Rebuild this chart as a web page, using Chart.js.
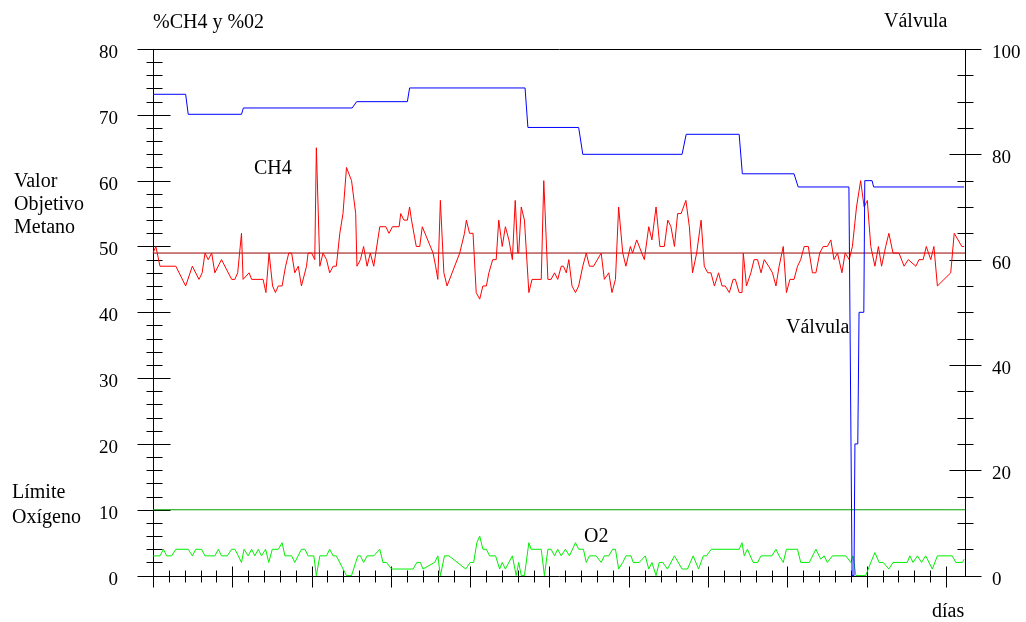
<!DOCTYPE html>
<html>
<head>
<meta charset="utf-8">
<script src="https://cdn.jsdelivr.net/npm/chart.js@4"></script>
<style>
  html, body { margin: 0; padding: 0; background: #fff; }
  #caja { width: 1026px; height: 622px; position: relative; }
</style>
</head>
<body>
<div id="caja"><canvas id="grafico"></canvas></div>
<script>
// CH4 (%): day -> value
let diasCH4 = [0, 0.9, 2.2, 7.2, 10.3, 12.4, 14.5, 15.5, 16.4, 17.4, 18.5, 19.5, 21.6, 24.8, 25.8, 26.7, 27.9, 28.4, 30.3, 31.1,
    34.7, 35.6, 36.6, 37.7, 38.6, 39.5, 40.7, 41.8, 42.8, 43.7, 44.7, 45.8, 46.8, 48.4, 48.9, 50.0, 51.0, 51.5, 52.6, 53.6,
    54.7, 55.7, 56.8, 57.8, 58.9, 59.9, 61.0, 62.6, 63.9, 64.3, 65.4, 66.4, 67.5, 68.5, 69.6, 71.5, 73.4, 74.4, 75.5, 77.6,
    78.1, 79.1, 80.2, 80.9, 81.5, 83.0, 84.1, 84.9, 88.3, 89.1, 89.8, 90.6, 91.7, 92.7, 96.7, 98.2, 98.8, 99.8, 100.9, 101.9,
    103.0, 104.0, 105.1, 105.9, 107.1, 108.2, 109.0, 110.1, 111.1, 112.2, 113.3, 114.2, 115.0, 115.3, 116.1, 117.1, 118.5, 119.5, 122.4, 123.2,
    124.5, 125.5, 126.6, 127.6, 128.7, 129.4, 130.3, 131.1, 132.1, 133.2, 134.2, 135.5, 136.6, 137.6, 138.9, 141.3, 142.3, 143.7, 144.7, 145.8,
    146.8, 148.1, 149.1, 150.5, 151.2, 152.5, 154.9, 156.3, 157.3, 158.6, 159.8, 161.2, 162.3, 163.3, 164.4, 165.4, 166.5, 168.0, 169.1, 170.1,
    171.4, 172.8, 173.8, 174.9, 175.9, 177.0, 178.3, 179.4, 180.4, 181.7, 182.9, 183.6, 184.8, 185.7, 186.1, 187.1, 188.5, 189.5, 190.6, 191.7,
    192.7, 194.1, 195.3, 196.4, 197.4, 198.7, 199.7, 200.8, 202.1, 203.2, 204.2, 205.3, 206.6, 207.9, 209.0, 210.2, 211.3, 212.6, 213.7, 214.7,
    215.8, 217.2, 218.2, 219.5, 220.5, 221.8, 223.1, 224.2, 225.2, 226.3, 227.6, 228.7, 229.7, 231.0, 232.0, 233.3, 235.2, 236.8, 238.1, 240.5,
    241.5, 242.8, 243.8, 245.2, 246.2, 247.3, 251.5, 252.6, 255.0, 255.7]
let ch4 = [49, 50, 47, 47, 44, 47, 45, 46, 49, 48, 49, 46, 48, 45, 45, 46, 52, 45, 46, 45,
    45, 43, 49, 44, 43, 44, 44, 47, 49, 49, 46, 47, 44, 47, 49, 49, 48, 65, 47, 49,
    48, 46, 47, 47, 52, 55, 62, 60, 55, 47, 48, 50, 47, 49, 47, 53, 53, 52, 53, 53,
    55, 54, 54, 56, 54, 50, 50, 53, 49, 47, 45, 57, 46, 44, 49, 52, 54, 52, 52, 43,
    42, 44, 44, 46, 48, 48, 54, 50, 53, 51, 48, 57, 49, 49, 56, 54, 43, 45, 45, 60,
    45, 45, 46, 45, 47, 47, 46, 48, 44, 43, 44, 47, 49, 47, 47, 49, 45, 46, 43, 45,
    56, 49, 47, 50, 49, 51, 48, 53, 51, 56, 50, 50, 54, 53, 50, 55, 55, 57, 53, 46,
    49, 54, 47, 46, 46, 44, 46, 44, 44, 43, 45, 45, 43, 43, 49, 44, 46, 48, 48, 46,
    48, 47, 46, 44, 47, 50, 43, 45, 45, 47, 48, 50, 50, 46, 46, 49, 50, 50, 51, 48,
    49, 46, 49, 48, 50, 56, 60, 56, 57, 50, 47, 50, 47, 50, 52, 49, 49, 47, 48, 47,
    48, 48, 50, 48, 50, 44, 46, 52, 50, 50]

// O2 (%)
let diasO2 = [0, 2.2, 3.3, 4.3, 5.9, 7.2, 11.1, 12.4, 13.5, 15.3, 16.4, 19.5, 20.6, 21.6, 23.4, 24.8, 25.8, 26.9, 27.9, 28.7,
    30.0, 31.1, 32.1, 33.2, 34.2, 35.5, 36.5, 37.6, 39.5, 40.7, 41.6, 43.7, 44.7, 46.8, 47.9, 48.9, 50.7, 51.5, 52.6, 54.7,
    55.7, 56.8, 57.8, 61.0, 62.6, 63.9, 64.6, 65.4, 66.4, 67.5, 69.6, 71.5, 72.5, 73.6, 75.2, 82.0, 83.2, 84.3, 85.1, 88.8,
    89.8, 90.6, 91.9, 93.3, 98.6, 100.0, 101.1, 102.1, 103.0, 104.0, 105.1, 106.1, 108.0, 109.3, 110.1, 111.1, 113.3, 114.5, 115.3, 116.1,
    117.1, 118.5, 119.2, 122.4, 123.4, 124.5, 125.5, 126.6, 127.6, 128.7, 130.0, 131.3, 133.2, 134.2, 135.7, 136.6, 137.6, 139.7, 141.3, 142.3,
    143.7, 144.9, 145.8, 146.8, 148.1, 149.1, 150.7, 151.4, 153.3, 155.2, 156.3, 157.3, 158.6, 159.6, 160.7, 162.2, 164.4, 166.8, 168.5, 170.3,
    172.0, 173.5, 174.5, 176.0, 184.8, 185.7, 186.4, 187.4, 189.2, 190.6, 191.7, 195.1, 196.4, 197.4, 198.7, 199.7, 203.2, 204.2, 206.9, 209.0,
    210.5, 211.6, 212.6, 214.2, 218.4, 220.0, 220.7, 221.6, 224.7, 226.3, 227.6, 228.9, 230.2, 232.0, 233.3, 237.8, 238.6, 239.6, 241.0, 242.3,
    243.6, 245.7, 247.3, 252.0, 253.1, 255.2, 255.7]
let o2 = [3, 3, 4, 3, 3, 4, 4, 3, 4, 4, 3, 3, 4, 3, 3, 4, 4, 3, 2, 4,
    3, 4, 3, 4, 3, 4, 2, 4, 4, 5, 3, 3, 2, 4, 4, 3, 3, 0, 3, 3,
    4, 3, 3, 0, 0, 2, 3, 3, 2, 3, 3, 4, 2, 2, 1, 1, 2, 2, 1, 2,
    3, 0, 3, 3, 1, 2, 2, 5, 6, 4, 4, 3, 3, 1, 2, 1, 3, 0, 2, 0,
    0, 5, 4, 4, 0, 4, 4, 3, 4, 3, 4, 3, 5, 4, 4, 2, 3, 3, 2, 3,
    3, 4, 4, 1, 2, 3, 3, 2, 2, 3, 1, 2, 0, 2, 2, 1, 3, 1, 1, 3,
    1, 3, 3, 4, 4, 5, 3, 4, 2, 2, 3, 3, 4, 3, 2, 4, 4, 2, 2, 4,
    2.5, 3, 2, 3, 3, 2, 3, 0, 0, 2, 3.5, 2, 2, 1, 2, 2, 3, 2, 3, 2,
    3, 1, 3, 3, 2, 2, 2.5]

// Válvula (%), right axis
let diasValvula = [0, 10.3, 11.1, 27.9, 28.5, 62.8, 64.2, 80.2, 80.9, 117.3, 118.2, 134.2, 135.5, 166.8, 168.1, 184.8, 185.8, 202.1, 203.4, 219.4,
    220.4, 221.0, 221.3, 222.2, 222.6, 224.1, 224.4, 226.7, 227.2, 255.7]
let valvula = [91.4, 91.4, 87.6, 87.6, 88.8, 88.8, 90.0, 90.0, 92.6, 92.6, 85.1, 85.1, 80.0, 80.0, 83.8, 83.8, 76.3, 76.3, 73.8, 73.8,
    0, 0, 25, 25, 50, 50, 75, 75, 73.8, 73.8]

let metanoObjetivo = 49
let limiteO2 = 10
let diaFinal = 256

function pares(dias, valores) {
    return dias.map((d, i) => ({ x: d, y: valores[i] }))
}

const fuente = '"Liberation Serif", "Times New Roman", serif'

// axes, frame and tick marks drawn on the library's scales
const marcas = {
    id: 'marcas',
    beforeDatasetsDraw(chart) {
        const { ctx, chartArea: a, scales } = chart
        const x = scales.x, y = scales.y, y2 = scales.y2
        const L = Math.round(a.left) + 0.5
        const R = Math.round(a.right) + 0.5
        const T = Math.round(a.top) + 0.5
        const B = Math.round(a.bottom) + 0.5
        ctx.save()
        ctx.strokeStyle = '#000'
        ctx.lineWidth = 1
        ctx.beginPath()
        ctx.moveTo(L, T); ctx.lineTo(R, T)
        ctx.moveTo(L, T); ctx.lineTo(L, B)
        ctx.moveTo(R, T); ctx.lineTo(R, B)
        ctx.moveTo(L, B); ctx.lineTo(R, B)
        for (let v = 0; v <= 80; v += 2) {
            const p = Math.round(y.getPixelForValue(v)) + 0.5
            if (v % 10 === 0) { ctx.moveTo(L - 16, p); ctx.lineTo(L + 17, p) }
            else { ctx.moveTo(L - 7, p); ctx.lineTo(L + 9, p) }
        }
        for (let v = 0; v <= 100; v += 5) {
            const p = Math.round(y2.getPixelForValue(v)) + 0.5
            if (v % 20 === 0) { ctx.moveTo(R - 16, p); ctx.lineTo(R + 16, p) }
            else { ctx.moveTo(R - 8, p); ctx.lineTo(R + 8, p) }
        }
        for (let d = 0; d <= 250; d += 5) {
            const p = Math.round(x.getPixelForValue(d)) + 0.5
            if (d % 25 === 0) { ctx.moveTo(p, B - 10); ctx.lineTo(p, B + 11) }
            else { ctx.moveTo(p, B - 6); ctx.lineTo(p, B + 6) }
        }
        ctx.stroke()
        ctx.restore()
    },
    afterDraw(chart) {
        const ctx = chart.ctx
        ctx.save()
        ctx.fillStyle = '#000'
        ctx.font = '20px ' + fuente
        ctx.textBaseline = 'alphabetic'
        ctx.textAlign = 'left'
        ctx.fillText('%CH4 y %02', 153, 28)
        ctx.fillText('Válvula', 884, 27)
        ctx.fillText('Valor', 14, 187)
        ctx.fillText('Objetivo', 14, 210)
        ctx.fillText('Metano', 14, 233)
        ctx.fillText('Límite', 12, 498)
        ctx.fillText('Oxígeno', 12, 523)
        ctx.fillText('CH4', 254, 174)
        ctx.fillText('Válvula', 786, 333)
        ctx.fillText('O2', 584, 542)
        ctx.fillText('días', 932, 617)
        ctx.restore()
    }
}

new Chart(document.getElementById('grafico'), {
    type: 'line',
    data: {
        datasets: [
            {
                label: 'Válvula',
                data: pares(diasValvula, valvula),
                yAxisID: 'y2',
                borderColor: '#0000ff',
                borderWidth: 1,
                pointRadius: 0,
                clip: 4
            },
            {
                label: 'CH4',
                data: pares(diasCH4, ch4),
                yAxisID: 'y',
                borderColor: '#ff0000',
                borderWidth: 1,
                pointRadius: 0,
                clip: 4
            },
            {
                label: 'O2',
                data: pares(diasO2, o2),
                yAxisID: 'y',
                borderColor: '#00ee00',
                borderWidth: 1,
                pointRadius: 0,
                clip: 4
            },
            {
                label: 'Valor Objetivo Metano',
                data: [{ x: 0, y: metanoObjetivo }, { x: diaFinal, y: metanoObjetivo }],
                yAxisID: 'y',
                borderColor: '#990000',
                borderWidth: 1,
                pointRadius: 0
            },
            {
                label: 'Límite Oxígeno',
                data: [{ x: 0, y: limiteO2 }, { x: diaFinal, y: limiteO2 }],
                yAxisID: 'y',
                borderColor: '#00a000',
                borderWidth: 1,
                pointRadius: 0
            }
        ]
    },
    plugins: [marcas],
    options: {
        responsive: true,
        maintainAspectRatio: false,
        animation: false,
        layout: { padding: { top: 49, left: 0, right: 0, bottom: 0 } },
        plugins: {
            legend: { display: false },
            tooltip: { enabled: false }
        },
        elements: { line: { tension: 0 } },
        scales: {
            x: {
                type: 'linear',
                min: 0,
                max: diaFinal,
                grid: { display: false, drawTicks: false },
                border: { display: false },
                ticks: { display: false },
                afterFit: s => { s.height = 45 }
            },
            y: {
                position: 'left',
                min: 0,
                max: 80,
                grid: { display: false, drawTicks: false },
                border: { display: false },
                ticks: {
                    stepSize: 10,
                    padding: 35,
                    labelOffset: 4,
                    color: '#000',
                    font: { family: fuente, size: 19 }
                },
                afterFit: s => { s.width = 153 }
            },
            y2: {
                position: 'right',
                min: 0,
                max: 100,
                grid: { display: false, drawTicks: false },
                border: { display: false },
                ticks: {
                    stepSize: 20,
                    padding: 27,
                    labelOffset: 4,
                    color: '#000',
                    font: { family: fuente, size: 19 }
                },
                afterFit: s => { s.width = 61 }
            }
        }
    }
})
</script>
</body>
</html>
